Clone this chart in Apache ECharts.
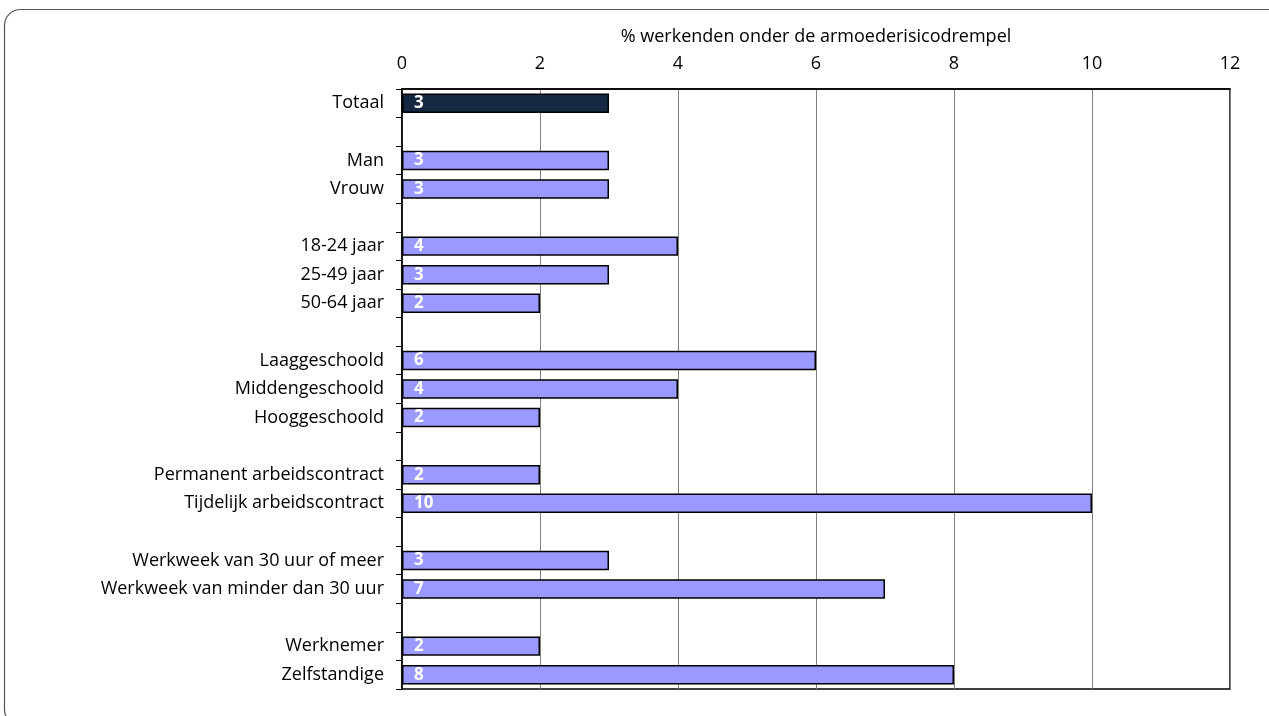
<!DOCTYPE html>
<html><head><meta charset="utf-8">
<script src="https://cdn.jsdelivr.net/npm/echarts@6/dist/echarts.min.js"></script>
<style>html,body{margin:0;padding:0;background:#fff}#c{width:1269px;height:716px}</style>
</head><body><div id="c"></div>
<script>
const categories = ['Totaal','', 'Man','Vrouw','', '18-24 jaar','25-49 jaar','50-64 jaar','', 'Laaggeschoold','Middengeschoold','Hooggeschoold','', 'Permanent arbeidscontract','Tijdelijk arbeidscontract','', 'Werkweek van 30 uur of meer','Werkweek van minder dan 30 uur','', 'Werknemer','Zelfstandige'];
const values = [3, null, 3, 3, null, 4, 3, 2, null, 6, 4, 2, null, 2, 10, null, 3, 7, null, 2, 8];
const axisTitle = '% werkenden onder de armoederisicodrempel';
const xMin = 0, xMax = 12, xStep = 2;

const font = '"Open Sans", sans-serif';
const chart = echarts.init(document.getElementById('c'));
chart.setOption({
  animation: false,
  graphic: [{type:'rect', shape:{x:4.5,y:9.5,width:1300,height:716,r:16}, style:{fill:'none',stroke:'#555',lineWidth:1.2}, z:-1}],
  grid: {left:402, right:39, top:89, bottom:27, show:true, borderColor:'#000', borderWidth:1.5, backgroundColor:'transparent'},
  xAxis: {type:'value', position:'top', min:xMin, max:xMax, interval:xStep,
    name: axisTitle, nameLocation:'middle', nameGap:43,
    nameTextStyle:{fontFamily:font, fontSize:18, color:'#000'},
    axisLine:{show:true, lineStyle:{color:'#000', width:1.5}},
    axisTick:{show:false},
    axisLabel:{fontFamily:font, fontSize:18, color:'#000', margin:16},
    splitLine:{show:true, lineStyle:{color:'#808080', width:1}}
  },
  yAxis: {type:'category', inverse:true, data:categories,
    axisLine:{show:true, lineStyle:{color:'#000', width:1.5}},
    axisTick:{show:true, length:6, lineStyle:{color:'#000'}},
    axisLabel:{fontFamily:font, fontSize:18, color:'#000', margin:18, padding:[3,0,0,0]}
  },
  series: [{type:'bar', barWidth:'68%',
    data: values.map((v,i)=> v==null ? null : {value:v, itemStyle:{color: i===0 ? '#152842' : '#9999FF'}}),
    itemStyle:{borderColor:'#000', borderWidth:1.5},
    label:{show:true, position:'insideLeft', distance:12, color:'#fff', fontWeight:'bold', fontFamily:font, fontSize:17, padding:[2,0,0,0]}
  }]
});
</script></body></html>
